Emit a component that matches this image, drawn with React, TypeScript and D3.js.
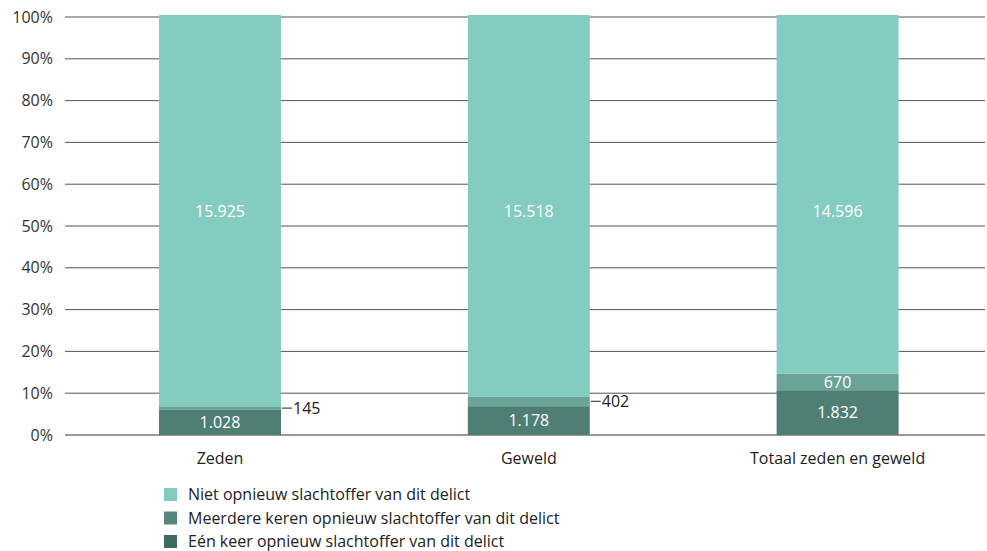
import React from "react";
import * as d3 from "d3";

const categories = ["Zeden", "Geweld", "Totaal zeden en geweld"];
const eenKeer = [1028, 1178, 1832];
const meerdere = [145, 402, 670];
const niet = [15925, 15518, 14596];
const yTicks = [0, 10, 20, 30, 40, 50, 60, 70, 80, 90, 100];
const legendLabels = [
  "Niet opnieuw slachtoffer van dit delict",
  "Meerdere keren opnieuw slachtoffer van dit delict",
  "Eén keer opnieuw slachtoffer van dit delict",
];

const W = 987;
const H = 551;
const FONT = "'Open Sans', 'Noto Sans', sans-serif";
const FS = 16;
const barColors = { een: "#4f7e75", meer: "#6aa397", niet: "#84cbc0" };
const legendColors = ["#84cbc0", "#55877e", "#3d6a61"];

const nl = d3.formatLocale({ decimal: ",", thousands: ".", grouping: [3], currency: ["€", ""] });
const fmt = nl.format(",d");

export default function App() {
  const x = d3
    .scaleBand<string>()
    .domain(categories)
    .range([65.6, 992])
    .paddingInner(0.605)
    .paddingOuter(0.3025);
  const y = d3.scaleLinear().domain([0, 100]).range([435, 17]);

  const rows = categories.map((c, i) => {
    const total = eenKeer[i] + meerdere[i] + niet[i];
    const p1 = (eenKeer[i] / total) * 100;
    const p2 = (meerdere[i] / total) * 100;
    return {
      c,
      segs: [
        { key: "een", v: eenKeer[i], y0: 0, y1: p1, color: barColors.een },
        { key: "meer", v: meerdere[i], y0: p1, y1: p1 + p2, color: barColors.meer },
        { key: "niet", v: niet[i], y0: p1 + p2, y1: 100, color: barColors.niet },
      ],
    };
  });

  return (
    <svg width={W} height={H} style={{ position: "absolute", left: 0, top: 0, background: "#fff" }}>
      <g>
        {yTicks.map((t) => (
          <g key={t}>
            <line x1={65} x2={985} y1={y(t)} y2={y(t)} stroke={t === 0 ? "#333" : "#555"} strokeWidth={1} />
            <text x={53} y={y(t)} dy="0.35em" textAnchor="end" fontFamily={FONT} fontSize={FS} fill="#333">
              {t}%
            </text>
          </g>
        ))}
      </g>
      {rows.map((r) => {
        const bx = x(r.c)!;
        const bw = x.bandwidth();
        return (
          <g key={r.c}>
            {r.segs.map((s) => (
              <rect
                key={s.key}
                x={bx}
                width={bw}
                y={s.key === "niet" ? y(s.y1) - 2 : y(s.y1)}
                height={y(s.y0) - y(s.y1) + (s.key === "niet" ? 2 : 0)}
                fill={s.color}
              />
            ))}
            {r.segs.map((s) => {
              const h = y(s.y0) - y(s.y1);
              const cy = s.key === "niet" ? y(53.5) : (y(s.y0) + y(s.y1)) / 2;
              if (h >= 14) {
                return (
                  <text key={s.key + "l"} x={bx + bw / 2} y={cy} dy="0.35em" textAnchor="middle" fontFamily={FONT} fontSize={FS} fill="#fff">
                    {fmt(s.v)}
                  </text>
                );
              }
              return (
                <g key={s.key + "l"}>
                  <line x1={bx + bw + 1} x2={bx + bw + 11} y1={cy} y2={cy} stroke="#222" strokeWidth={1} />
                  <text x={bx + bw + 12} y={cy} dy="0.35em" fontFamily={FONT} fontSize={FS} fill="#222">
                    {fmt(s.v)}
                  </text>
                </g>
              );
            })}
            <text x={bx + bw / 2} y={458} dy="0.35em" textAnchor="middle" fontFamily={FONT} fontSize={FS} fill="#222">
              {r.c}
            </text>
          </g>
        );
      })}
      {legendLabels.map((l, i) => (
        <g key={l} transform={`translate(164, ${488 + i * 23.5})`}>
          <rect x={0} y={0} width={13} height={13} fill={legendColors[i]} />
          <text x={24} y={6.5} dy="0.35em" fontFamily={FONT} fontSize={FS} fill="#222">
            {l}
          </text>
        </g>
      ))}
    </svg>
  );
}
